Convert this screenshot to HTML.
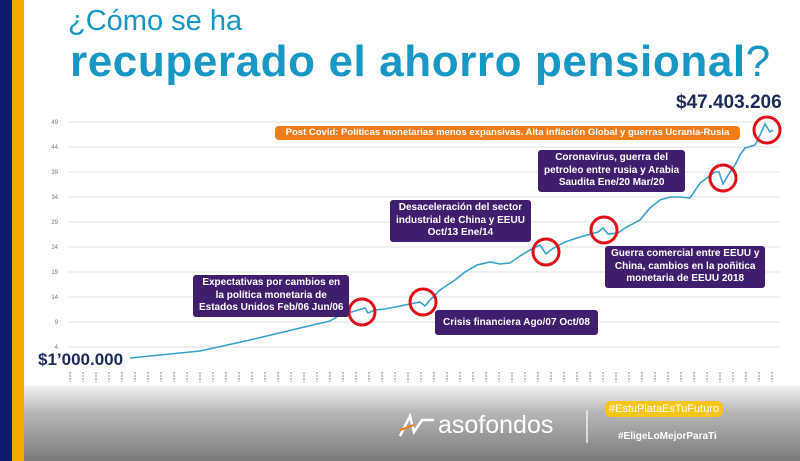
<!DOCTYPE html><html><head><style>
body{margin:0;width:800px;height:461px;overflow:hidden;background:#fff;font-family:"Liberation Sans",sans-serif;position:relative}
.b{position:absolute;background:#3f1e6e;color:#fff;font-weight:bold;font-size:10px;text-align:center;border-radius:3px;line-height:12.5px;padding:2px 6px;white-space:nowrap}
</style></head><body>
<div style="position:absolute;left:0;top:0;width:12px;height:461px;background:#0e1a6e"></div>
<div style="position:absolute;left:12px;top:0;width:12px;height:461px;background:#f5a800"></div>
<div style="position:absolute;left:68px;top:5px;font-size:29px;color:#1896c4">¿Cómo se ha</div>
<div style="position:absolute;left:70px;top:37px;font-size:44px;font-weight:bold;color:#1896c4;letter-spacing:0.6px;white-space:nowrap">recuperado el ahorro pensional<span style="font-weight:normal">?</span></div>
<svg width="800" height="461" style="position:absolute;left:0;top:0">
<g stroke="#e2e2e2" stroke-width="1">
<line x1="68" x2="780" y1="122" y2="122"/><line x1="68" x2="780" y1="147" y2="147"/><line x1="68" x2="780" y1="172" y2="172"/><line x1="68" x2="780" y1="197" y2="197"/><line x1="68" x2="780" y1="222" y2="222"/><line x1="68" x2="780" y1="247" y2="247"/><line x1="68" x2="780" y1="272" y2="272"/><line x1="68" x2="780" y1="297" y2="297"/><line x1="68" x2="780" y1="322" y2="322"/><line x1="68" x2="780" y1="347" y2="347"/></g>
<g font-size="6" fill="#777" text-anchor="end">
<text x="58" y="124">49</text><text x="58" y="149">44</text><text x="58" y="174">39</text><text x="58" y="199">34</text><text x="58" y="224">29</text><text x="58" y="249">24</text><text x="58" y="274">19</text><text x="58" y="299">14</text><text x="58" y="324">9</text><text x="58" y="349">4</text></g>
<defs><linearGradient id="g" x1="0" y1="0" x2="0" y2="1"><stop offset="0" stop-color="#f4f4f4"/><stop offset="0.35" stop-color="#b8b8b8"/><stop offset="1" stop-color="#7a7a7a"/></linearGradient></defs>
<rect x="24" y="385" width="776" height="76" fill="url(#g)"/>
<path d="M70 372 V382 M83 372 V382 M96 372 V382 M109 372 V382 M122 372 V382 M135 372 V382 M148 372 V382 M161 372 V382 M174 372 V382 M187 372 V382 M200 372 V382 M213 372 V382 M226 372 V382 M239 372 V382 M252 372 V382 M265 372 V382 M278 372 V382 M291 372 V382 M304 372 V382 M317 372 V382 M330 372 V382 M343 372 V382 M356 372 V382 M369 372 V382 M382 372 V382 M395 372 V382 M408 372 V382 M421 372 V382 M434 372 V382 M447 372 V382 M460 372 V382 M473 372 V382 M486 372 V382 M499 372 V382 M512 372 V382 M525 372 V382 M538 372 V382 M551 372 V382 M564 372 V382 M577 372 V382 M590 372 V382 M603 372 V382 M616 372 V382 M629 372 V382 M642 372 V382 M655 372 V382 M668 372 V382 M681 372 V382 M694 372 V382 M707 372 V382 M720 372 V382 M733 372 V382 M746 372 V382 M759 372 V382 M772 372 V382" stroke="#999" stroke-width="1.2" stroke-dasharray="2 1"/>
<polyline fill="none" stroke="#3aa0d0" stroke-width="1.6" points="130,358 200,351 250,340 300,328 330,321 340,315 355,311 365,308 368,313 375,310 385,309 395,307 410,304 420,302 425,306 430,300 440,290 455,280 465,272 477,265 490,262 500,264 510,263 520,256 530,250 540,245 546,254 552,249 565,242 580,237 598,232 603,228 608,234 618,233 625,228 640,220 650,208 660,200 670,197 680,197 690,198 700,183 715,172 719,172 723,184 730,172 735,165 740,155 745,148 755,145 760,135 765,124 770,132 773,130"/>
<g fill="none" stroke="#e0101a" stroke-width="3">
<circle cx="362" cy="312" r="13"/><circle cx="423" cy="302" r="13"/><circle cx="546" cy="252" r="13"/><circle cx="604" cy="230" r="13"/><circle cx="723" cy="178" r="13"/><circle cx="767" cy="130" r="13"/></g>
<text x="438" y="433" font-size="25" fill="#fff">asofondos</text>
<line x1="587" y1="410" x2="587" y2="443" stroke="#eee" stroke-width="1.5"/>
<path d="M400 436 L410 416 L414 432 L422 420 L434 420" stroke="#fff" stroke-width="2.5" fill="none"/>
<path d="M400 430 L414 425" stroke="#f07c1a" stroke-width="2"/>
</svg>
<div style="position:absolute;left:676px;top:92px;font-size:19px;font-weight:bold;color:#1d2a5a">$47.403.206</div>
<div style="position:absolute;left:275px;top:126px;width:465px;height:14px;background:#f07c1a;border-radius:4px;color:#fff;font-size:9.5px;font-weight:bold;text-align:center;line-height:14px">Post Covid: Políticas monetarias menos expansivas. Alta inflación Global y guerras Ucrania-Rusia</div>
<div class="b" style="left:538px;top:150px">Coronavirus, guerra del<br>petroleo entre rusia y Arabia<br>Saudita Ene/20 Mar/20</div>
<div class="b" style="left:390px;top:200px">Desaceleración del sector<br>industrial de China y EEUU<br>Oct/13 Ene/14</div>
<div class="b" style="left:605px;top:246px">Guerra comercial entre EEUU y<br>China, cambios en la poñitica<br>monetaria de EEUU 2018</div>
<div class="b" style="left:193px;top:275px">Expectativas por cambios en<br>la política monetaria de<br>Estados Unidos Feb/06 Jun/06</div>
<div class="b" style="left:435px;top:310px;line-height:21px;padding:2px 8px">Crisis financiera Ago/07 Oct/08</div>
<div style="position:absolute;left:38px;top:350px;font-size:17px;font-weight:bold;color:#1d2a5a">$1’000.000</div>
<div style="position:absolute;left:605px;top:401px;width:118px;height:16px;background:#f5c518;border-radius:6px;color:#fff;font-size:11px;text-align:center;line-height:16px">#EstuPlataEsTuFuturo</div>
<div style="position:absolute;left:618px;top:431px;font-size:10px;font-weight:bold;color:#fff">#EligeLoMejorParaTi</div>
</body></html>
